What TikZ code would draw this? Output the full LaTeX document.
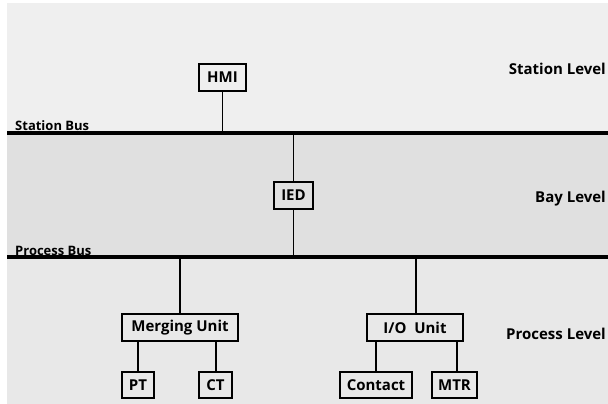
\documentclass[tikz,border=0pt]{standalone}
\usepackage{fontspec}
\setmainfont{Open Sans}
\definecolor{stationbg}{HTML}{EFEFEF}
\definecolor{baybg}{HTML}{E0E0E0}
\definecolor{procbg}{HTML}{E8E8E8}
\begin{document}
\begin{tikzpicture}[x=1pt,y=-1pt,
  unitbox/.style={draw=black,line width=1.8pt,fill=none,inner sep=0pt,font=\bfseries\fontsize{15}{16}\selectfont,anchor=center},
  bus/.style={line width=3.5pt},
  link/.style={line width=1.8pt},
  levellabel/.style={font=\bfseries\fontsize{15}{16}\selectfont,anchor=east,inner sep=0pt},
  buslabel/.style={font=\bfseries\fontsize{13}{14}\selectfont,anchor=base west,inner sep=0pt}]
\useasboundingbox (0,0) rectangle (608,404);
\fill[white] (0,0) rectangle (608,404);
\fill[stationbg] (7,3) rectangle (608,133);
\fill[baybg] (7,133) rectangle (608,257);
\fill[procbg] (7,257) rectangle (608,404);
% buses
\coordinate (sbL) at (7,133);
\coordinate (sbR) at (608,133);
\coordinate (pbL) at (7,257);
\coordinate (pbR) at (608,257);
\draw[bus] (sbL) -- (sbR);
\draw[bus] (pbL) -- (pbR);
\node[buslabel] (sblabel) at (15,130.5) {Station\ Bus};
\node[buslabel] (pblabel) at (15,255) {Process Bus};
% level labels
\node[levellabel] (stl) at (606,69) {Station Level};
\node[levellabel] (bayl) at (606,199) {Bay Level};
\node[levellabel] (procl) at (606,334) {Process Level};
% boxes
\node[unitbox,minimum width=47pt,minimum height=27pt] (hmi) at (222.5,77.5) {HMI};
\node[unitbox,minimum width=39pt,minimum height=27pt] (ied) at (293.5,195.5) {IED};
\node[unitbox,minimum width=116pt,minimum height=27pt] (mu) at (180,327.5) {Merging Unit};
\node[unitbox,minimum width=96pt,minimum height=27pt] (io) at (415,327.5) {I/O\ \ Unit};
\node[unitbox,minimum width=32pt,minimum height=26pt] (pt) at (138,385) {PT};
\node[unitbox,minimum width=33pt,minimum height=26pt] (ct) at (215.5,385) {CT};
\node[unitbox,minimum width=72pt,minimum height=26pt] (contact) at (376,385) {Contact};
\node[unitbox,minimum width=45pt,minimum height=26pt] (mtr) at (454.5,385) {MTR};
% bus taps
\coordinate (hmitap) at (hmi.south |- sbL);
\coordinate (iedtop) at (ied.north |- sbL);
\coordinate (iedbot) at (ied.south |- pbL);
\coordinate (mutap) at (mu.north |- pbL);
\coordinate (iotap) at (416,257);
% links
\draw[link] (hmi.south) -- (hmitap);
\draw[link] (iedtop) -- (ied.north);
\draw[link] (ied.south) -- (iedbot);
\draw[link] (mutap) -- (mu.north);
\draw[link] (iotap) -- (iotap |- io.north);
\draw[link] (pt.north) -- (pt.north |- mu.south);
\draw[link] (216,341) -- (216,372);
\draw[link] (contact.north) -- (contact.north |- io.south);
\draw[link] (457,341) -- (457,372);
\end{tikzpicture}
\end{document}
